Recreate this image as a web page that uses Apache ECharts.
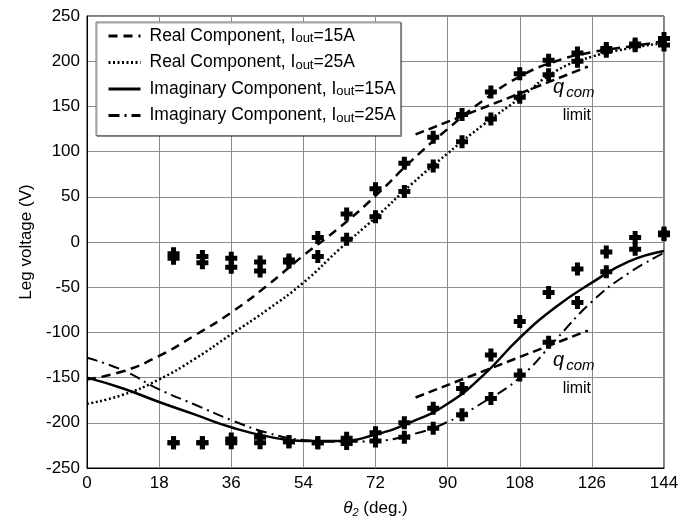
<!DOCTYPE html>
<html>
<head>
<meta charset="utf-8">
<script src="https://cdn.jsdelivr.net/npm/echarts@6/dist/echarts.min.js"></script>
<style>
  html, body { margin: 0; padding: 0; background: #fff; }
  #chart { width: 689px; height: 523px; }
</style>
</head>
<body>
<div id="chart"></div>
<script>
// theta_2 sample points (deg.)
const theta = [0, 9, 18, 27, 36, 45, 54, 63, 72, 81, 90, 99, 108, 117, 126, 135, 144];
// fitted curves (V)
const real15 = [-152, -143, -126, -103, -78, -48, -15, 16, 51, 90, 125, 157, 183, 200, 210, 216, 222];
const real25 = [-179, -169, -152, -129, -102, -75, -45, -8, 27, 64, 98, 130, 159, 189, 205, 214, 220];
const imag15 = [-150, -162, -177, -191, -205, -215, -220, -220, -213, -199, -179, -147, -106, -72, -45, -22, -10];
const imag25 = [-128, -142, -163, -180, -197, -211, -219, -221, -220, -213, -199, -177, -150, -108, -66, -35, -12];

// q_com limit lines
const limitX = [82, 125];
const limitReal = [119, 194];
const limitImag = [-172, -98];

// measured points
const measX = [21.6, 28.8, 36, 43.2, 50.4, 57.6, 64.8, 72, 79.2, 86.4, 93.6, 100.8, 108, 115.2, 122.4, 129.6, 136.8, 144];
const measRealA = [-13, -16, -18, -22, -20, 5, 31, 59, 87, 116, 141, 166, 186, 201, 209, 214, 217, 225];
const measRealB = [-18, -23, -28, -32, -22, -16, 3, 28, 56, 84, 111, 136, 160, 185, 200, 211, 219, 218];
const measImagA = [-222, -222, -218, -216, -221, -222, -217, -211, -200, -184, -162, -125, -88, -56, -30, -11, 5, 8];
const measImagB = [-222, -222, -222, -222, -221, -222, -223, -220, -216, -206, -191, -173, -147, -111, -67, -33, -8, 10];

// where the "q com limit" notes sit
const notePos = [[121.5, 152], [121.5, -150]];

const names = [
  'Real Component, Iout=15A',
  'Real Component, Iout=25A',
  'Imaginary Component, Iout=15A',
  'Imaginary Component, Iout=25A'
];
const legendRich = {
  'Real Component, Iout=15A': 'Real Component, I{sub|out}=15A',
  'Real Component, Iout=25A': 'Real Component, I{sub|out}=25A',
  'Imaginary Component, Iout=15A': 'Imaginary Component, I{sub|out}=15A',
  'Imaginary Component, Iout=25A': 'Imaginary Component, I{sub|out}=25A'
};

const pair = (xs, ys) => xs.map((x, i) => [x, ys[i]]);
const plus = 'path://M3.5,0h5v4h3.5v5h-3.5v4h-5v-4h-3.5v-5h3.5z';
const font = 'Liberation Sans, Arial, sans-serif';

function curve(name, data, type, width) {
  return {
    name: name,
    type: 'line',
    data: pair(theta, data),
    smooth: true,
    symbol: 'none',
    lineStyle: { color: '#000', width: width, type: type },
    itemStyle: { color: '#000' },
    z: 3
  };
}

const chart = echarts.init(document.getElementById('chart'));
chart.setOption({
  animation: false,
  backgroundColor: '#fff',
  textStyle: { fontFamily: font },
  grid: {
    left: 87, right: 25, top: 16, bottom: 54,
    show: true, borderColor: '#000', borderWidth: 1
  },
  legend: {
    data: names,
    orient: 'vertical',
    left: 96, top: 22,
    itemWidth: 32, itemHeight: 14, itemGap: 6.5,
    padding: [3, 5, 11, 11],
    backgroundColor: '#fff',
    borderColor: '#777', borderWidth: 1,
    shadowColor: 'rgba(0,0,0,0.35)', shadowOffsetX: 1, shadowOffsetY: 1,
    itemStyle: { opacity: 0 },
    lineStyle: { width: 3 },
    formatter: n => legendRich[n],
    textStyle: {
      fontFamily: font, fontSize: 17.5, color: '#000', lineHeight: 18, padding: [0, 0, 0, 4],
      rich: { sub: { fontFamily: font, fontSize: 13, color: '#000', verticalAlign: 'bottom', lineHeight: 12, padding: [7, 0, 0, 0] } }
    }
  },
  xAxis: {
    type: 'value', min: 0, max: 144, interval: 18,
    name: '{t|θ}{s|2}{n| (deg.)}',
    nameLocation: 'middle', nameGap: 30,
    nameTextStyle: {
      rich: {
        t: { fontFamily: font, fontSize: 17, fontStyle: 'italic', color: '#000' },
        s: { fontFamily: font, fontSize: 11, fontStyle: 'italic', color: '#000', padding: [9, 0, 0, 0] },
        n: { fontFamily: font, fontSize: 17, color: '#000' }
      }
    },
    axisLine: { onZero: false, lineStyle: { color: '#000' } },
    axisTick: { show: false },
    axisLabel: { color: '#000', fontSize: 17, margin: 7, fontFamily: font },
    splitLine: { lineStyle: { color: '#8c8c8c', width: 1 } }
  },
  yAxis: {
    type: 'value', min: -250, max: 250, interval: 50,
    name: 'Leg voltage (V)',
    nameLocation: 'middle', nameGap: 44,
    nameTextStyle: { color: '#000', fontSize: 17, fontFamily: font },
    axisLine: { show: true, onZero: false, lineStyle: { color: '#000' } },
    axisTick: { show: false },
    axisLabel: { color: '#000', fontSize: 17, margin: 7, fontFamily: font },
    splitLine: { lineStyle: { color: '#8c8c8c', width: 1 } }
  },
  series: [
    curve(names[0], real15, [9, 6], 2.5),
    curve(names[1], real25, [2, 2.5], 2.5),
    curve(names[2], imag15, 'solid', 2.5),
    curve(names[3], imag25, [11, 5, 2, 5], 2),
    {
      name: 'limit real', type: 'line', data: pair(limitX, limitReal),
      symbol: 'none', lineStyle: { color: '#000', width: 2.5, type: [9, 5] }, z: 3
    },
    {
      name: 'limit imag', type: 'line', data: pair(limitX, limitImag),
      symbol: 'none', lineStyle: { color: '#000', width: 2.5, type: [9, 5] }, z: 3
    },
    {
      name: 'measured', type: 'scatter',
      data: pair(measX, measRealA).concat(pair(measX, measRealB), pair(measX, measImagA), pair(measX, measImagB)),
      symbol: plus, symbolSize: [12, 13],
      itemStyle: { color: '#000', opacity: 1 }, z: 4
    },
    {
      name: 'qcom', type: 'scatter',
      data: notePos,
      symbolSize: 0,
      itemStyle: { color: '#000', opacity: 1 },
      label: {
        show: true, position: 'inside', align: 'center',
        color: '#000', textBorderWidth: 0, opacity: 1,
        formatter: '{q|q}{c|com}\n{l|limit}',
        rich: {
          q: { fontFamily: font, fontSize: 20, fontStyle: 'italic', color: '#000', lineHeight: 22 },
          c: { fontFamily: font, fontSize: 15, fontStyle: 'italic', color: '#000', padding: [10, 0, 0, 2], lineHeight: 22 },
          l: { fontFamily: font, fontSize: 16, color: '#000', lineHeight: 34, padding: [0, 0, 0, 6] }
        }
      },
      z: 5
    }
  ]
});
</script>
</body>
</html>
